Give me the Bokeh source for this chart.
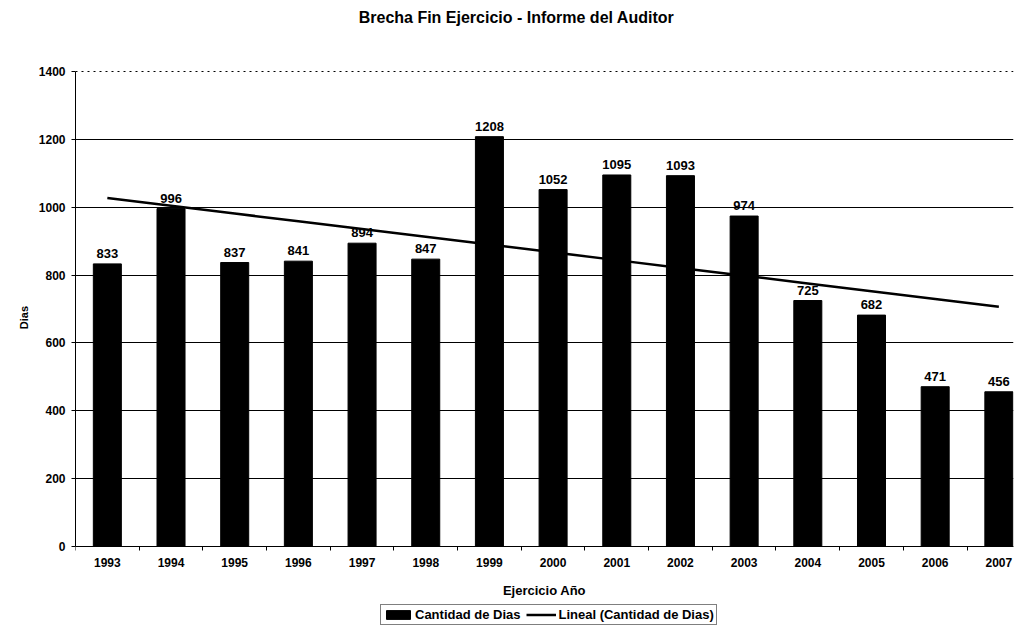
import numpy as np
from bokeh.plotting import figure
from bokeh.models import (ColumnDataSource, Range1d, FixedTicker, LabelSet, Legend,
                          LegendItem, Label, Span)
from bokeh.core.properties import value
from bokeh.embed import file_html
from bokeh.resources import INLINE

years = [1993, 1994, 1995, 1996, 1997, 1998, 1999, 2000, 2001, 2002, 2003, 2004, 2005, 2006, 2007]
dias = [833, 996, 837, 841, 894, 847, 1208, 1052, 1095, 1093, 974, 725, 682, 471, 456]
y_ticks = [0, 200, 400, 600, 800, 1000, 1200, 1400]

FONT = "Liberation Sans"

# linear trend (Excel "Lineal") from the data
idx = np.arange(1, len(years) + 1)
slope, intercept = np.polyfit(idx, dias, 1)
trend = list(slope * idx + intercept)

src = ColumnDataSource(dict(x=years, y=dias, lbl=[str(v) for v in dias], trend=trend))

# layout: plot area 475 px tall for 0..1400, 71 px above it, 88 px below it
PX = 475 / 1400.0
p = figure(frame_width=938, frame_height=634, output_backend="svg", toolbar_location=None,
           x_range=Range1d(1992.5, 2007.23),
           y_range=Range1d(-88 / PX, 1400 + 71 / PX),
           min_border_left=75, min_border_top=0, min_border_bottom=0, min_border_right=8)
p.background_fill_color = "white"
p.border_fill_color = "white"
p.outline_line_color = None

title = Label(x=441, y=617, x_units="screen", y_units="screen",
              text="Brecha Fin Ejercicio - Informe del Auditor", text_align="center",
              text_baseline="middle", text_font=FONT, text_font_style="bold",
              text_font_size="16px", text_color="black")
p.add_layout(title)

bars = p.vbar(x="x", top="y", width=0.44, source=src, fill_color="black", line_color="black")
tl = p.line(x="x", y="trend", source=src, line_color="black", line_width=2.5)

labels = LabelSet(x="x", y="y", text="lbl", source=src, y_offset=6, text_align="center",
                  text_baseline="bottom", text_font=value(FONT), text_font_style="bold",
                  text_font_size="13px", text_color="black")
p.add_layout(labels)

top_line = Span(location=y_ticks[-1], dimension="width", line_color="black",
                line_width=1, line_dash="2 4")
p.add_layout(top_line)

# axes
p.xaxis.fixed_location = 0
p.xaxis.ticker = FixedTicker(ticks=years, minor_ticks=[y - 0.5 for y in years] + [2007.5])
p.xaxis.major_tick_line_color = None
p.xaxis.minor_tick_in = 0
p.xaxis.minor_tick_out = 4
p.xaxis.minor_tick_line_color = "black"
p.xaxis.axis_line_color = "black"
p.xaxis.axis_label = "Ejercicio Año"
p.xaxis.formatter.use_scientific = False

p.yaxis.ticker = FixedTicker(ticks=y_ticks)
p.yaxis.bounds = (y_ticks[0], y_ticks[-1])
p.yaxis.minor_tick_line_color = None
p.yaxis.major_tick_in = 0
p.yaxis.major_tick_out = 4
p.yaxis.axis_line_color = "black"
p.yaxis.axis_label = "Dias"

for ax in (p.xaxis[0], p.yaxis[0]):
    ax.major_label_text_font = FONT
    ax.major_label_text_font_style = "bold"
    ax.major_label_text_font_size = "12px"
    ax.major_label_text_color = "black"
    ax.axis_label_text_font = FONT
    ax.axis_label_text_font_style = "bold"
    ax.axis_label_text_font_size = "13px"
    ax.axis_label_text_color = "black"

p.xaxis.major_label_standoff = 5
p.yaxis.major_label_standoff = 6
p.xaxis.axis_label_standoff = 13
p.yaxis.axis_label_standoff = 6
p.yaxis.axis_label_text_font_size = "11px"

p.xgrid.grid_line_color = None
p.ygrid.ticker = FixedTicker(ticks=y_ticks[:-1])
p.ygrid.grid_line_color = "black"
p.ygrid.grid_line_width = 1

legend = Legend(items=[LegendItem(label="Cantidad de Dias", renderers=[bars]),
                       LegendItem(label="Lineal (Cantidad de Dias)", renderers=[tl])],
                orientation="horizontal", location=(305, 9),
                label_text_font=FONT, label_text_font_style="bold", label_text_font_size="13px",
                label_text_color="black", label_height=11, glyph_height=11, glyph_width=30,
                label_standoff=2, spacing=6, padding=2, margin=0,
                border_line_color="black", border_line_width=1.5,
                background_fill_color="white")
p.add_layout(legend, "center")

open("out.html", "w").write(file_html(p, INLINE))
